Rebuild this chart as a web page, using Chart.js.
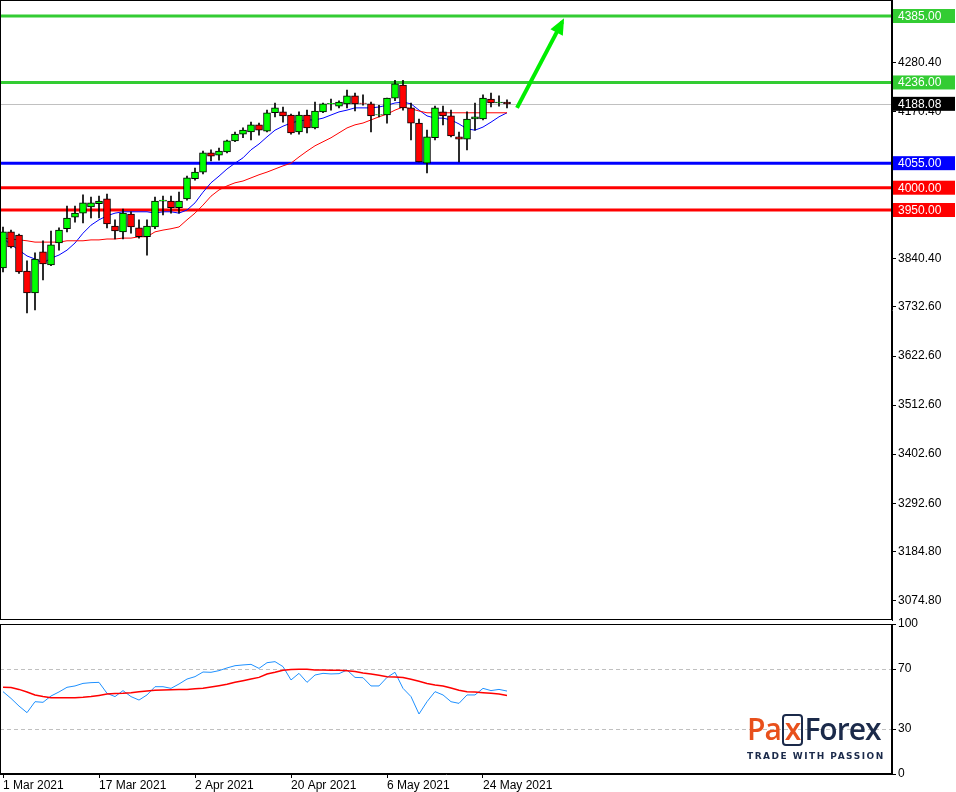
<!DOCTYPE html>
<html>
<head>
<meta charset="utf-8">
<script src="https://cdn.jsdelivr.net/npm/chart.js@4.4.1/dist/chart.umd.min.js"></script>
<style>
  body { margin: 0; background: #fff; width: 956px; height: 792px; overflow: hidden; position: relative; font-family: "Liberation Sans", Arial, sans-serif; }
  #mainWrap { position: absolute; left: 0; top: 0; width: 956px; height: 622px; }
  #oscWrap { position: absolute; left: 0; top: 610px; width: 956px; height: 182px; }
  #logo { position: absolute; left: 747px; top: 712px; white-space: nowrap; }
  #logo .name { font-family: "Open Sans", sans-serif; font-size: 30px; font-weight: 600; letter-spacing: -1px; line-height: 34px; color: #1b2a4a; }
  #logo .o { color: #e8501c; }
  #logo .bx { display: inline-block; color: #e8501c; border: 2px solid #1b2a4a; border-radius: 4px; line-height: 26px; padding: 0 1px 2px 1px; margin: 0 1px; }
  #logo .tag { font-family: "DejaVu Sans", sans-serif; font-size: 9px; font-weight: bold; letter-spacing: 1.5px; color: #1b2a4a; margin-top: 5px; }
</style>
</head>
<body>
<div id="mainWrap"><canvas id="mainChart"></canvas></div>
<div id="oscWrap"><canvas id="oscChart"></canvas></div>
<div id="logo"><div class="name"><span class="o">Pa</span><span class="bx">x</span>Forex</div><div class="tag">TRADE WITH PASSION</div></div>
<script>
// 数据：每日K线 (1 Mar 2021 - 27 May 2021)
const opens  = [3820,3901,3894,3813,3764,3856,3827,3876,3908,3934,3943,3957,3964,3975,3914,3901,3941,3910,3890,3912,3970,3970,3955,3975,4020,4035,4078,4073,4080,4105,4120,4125,4141,4127,4168,4170,4163,4125,4163,4134,4170,4188,4183,4188,4206,4190,4188,4163,4163,4201,4230,4179,4145,4055,4112,4170,4161,4114,4109,4154,4154,4199,4190,4192];
const highs  = [3912,3905,3896,3836,3854,3881,3903,3910,3959,3959,3984,3979,3981,3986,3928,3952,3946,3928,3928,3979,3981,3981,3990,4026,4044,4082,4085,4089,4107,4125,4134,4147,4145,4174,4190,4181,4165,4170,4174,4192,4190,4199,4195,4219,4212,4208,4192,4185,4201,4241,4241,4190,4154,4129,4183,4183,4174,4125,4170,4190,4208,4212,4206,4197];
const lows   = [3811,3865,3808,3719,3726,3793,3825,3860,3901,3923,3921,3932,3932,3910,3885,3885,3898,3887,3849,3908,3939,3943,3943,3972,4017,4031,4060,4062,4078,4103,4112,4107,4118,4125,4159,4147,4120,4120,4123,4132,4168,4174,4179,4179,4172,4185,4125,4159,4145,4195,4174,4107,4058,4033,4107,4141,4114,4058,4085,4129,4152,4181,4183,4179];
const closes = [3901,3867,3811,3764,3840,3829,3872,3905,3932,3943,3966,3966,3970,3919,3903,3943,3912,3890,3914,3970,3972,3955,3970,4022,4035,4078,4071,4082,4105,4120,4129,4141,4129,4168,4179,4161,4123,4163,4134,4172,4188,4189,4192,4206,4188,4189,4161,4164,4201,4233,4179,4145,4058,4114,4179,4161,4116,4109,4154,4159,4201,4190,4192,4188];
// 均线
const maFast = [3887,3872,3860,3847,3840,3831,3842,3849,3860,3876,3898,3916,3928,3937,3943,3946,3946,3946,3946,3943,3946,3946,3943,3950,3966,3990,4011,4026,4042,4055,4067,4085,4098,4114,4129,4138,4145,4150,4152,4152,4156,4163,4170,4174,4179,4179,4179,4181,4185,4190,4192,4188,4174,4161,4156,4156,4152,4143,4132,4129,4136,4147,4159,4168];
const maSlow = [3887,3885,3883,3881,3878,3878,3878,3878,3881,3881,3881,3883,3883,3885,3885,3887,3887,3890,3890,3901,3905,3908,3912,3928,3943,3961,3981,3995,4004,4011,4015,4022,4029,4035,4042,4049,4055,4069,4082,4094,4103,4112,4123,4134,4141,4145,4152,4159,4165,4174,4181,4177,4172,4168,4168,4168,4168,4168,4168,4168,4168,4168,4168,4168];
// 振荡指标
const oscMain = [54.9,50.4,45.3,40.9,48.2,47.8,52,54.7,57.8,58.7,60.4,60.9,61.1,53.8,51.6,55.6,51.6,49.3,52.7,58.2,58.2,57.1,60,63.3,64.9,68,67.8,68.9,70.7,72.2,72.7,73.1,70.4,74.2,74.9,71.6,62.7,67.1,61.1,66,67.1,66.7,66.9,69.3,64.4,64.2,58.7,58.7,64.4,67.8,57.1,51.6,40,48.2,54.9,52.7,48.2,47.1,52.7,52.7,57.1,55.6,56.4,55.3];
const oscSignal = [57.8,57.6,56.4,54.7,52.7,51.6,50.9,50.9,50.9,50.9,51.1,51.6,52.4,53.3,53.6,53.8,54.2,54.9,55.3,55.8,56,56.2,56.4,56.4,56.9,57.1,58,58.9,59.8,61.1,62.2,63.3,64.4,66.7,67.8,69.1,69.6,69.8,69.8,69.3,69.3,69.1,69.1,68.9,68.4,67.3,66.7,65.8,64.9,64.7,64.4,63.1,61.8,60.4,59.3,58.7,57.3,55.8,54.9,54.7,54.2,53.8,53.3,52.4];
// 刻度与标注
const priceTicks = [4280.40,4170.40,3840.40,3732.60,3622.60,3512.60,3402.60,3292.60,3184.80,3074.80];
const levels = [
  { value: 4385, color: '#33cc33', label: '4385.00' },
  { value: 4236, color: '#33cc33', label: '4236.00' },
  { value: 4055, color: '#0000ff', label: '4055.00' },
  { value: 4000, color: '#ff0000', label: '4000.00' },
  { value: 3950, color: '#ff0000', label: '3950.00' }
];
const lastPrice = 4188.08;
const dateTickIdx = [0, 12, 24, 36, 48, 60];
const dateLabels = ['1 Mar 2021', '17 Mar 2021', '2 Apr 2021', '20 Apr 2021', '6 May 2021', '24 May 2021'];
const arrowPts = [{ x: 64.25, y: 4179 }, { x: 69.9, y: 4372 }];
const oscTicks = [100, 70, 30, 0];

const X_MIN = -0.375, X_MAX = 111.125;
const AXIS_W = 64;
const FONT = { family: '"Liberation Sans", Arial, sans-serif', size: 12 };

const idx = opens.map((_, i) => i);
const bodyColors = idx.map(i => closes[i] >= opens[i] ? '#00ff00' : '#ff0000');

// 去掉刻度标签引起的额外边距
function fixY(s) { s.width = AXIS_W; s.paddingTop = 0; s.paddingBottom = 0; }
function fixX(s) { s.height = 18; s.paddingLeft = 0; s.paddingRight = 0; }

// 面板边框和水平线、标签
const panelPlugin = {
  id: 'panel',
  beforeDatasetsDraw(chart) {
    const { ctx, chartArea: a, scales } = chart;
    if (chart.canvas.id !== 'mainChart') return;
    const y = scales.y;
    ctx.save();
    ctx.strokeStyle = '#c0c0c0';
    ctx.lineWidth = 1;
    const py = Math.round(y.getPixelForValue(lastPrice)) + 0.5;
    ctx.beginPath(); ctx.moveTo(a.left, py); ctx.lineTo(a.right, py); ctx.stroke();
    ctx.lineWidth = 3;
    levels.forEach(l => {
      const ly = y.getPixelForValue(l.value);
      ctx.strokeStyle = l.color;
      ctx.beginPath(); ctx.moveTo(a.left, ly); ctx.lineTo(a.right, ly); ctx.stroke();
    });
    ctx.restore();
  },
  afterDraw(chart) {
    const { ctx, chartArea: a, scales } = chart;
    ctx.save();
    ctx.strokeStyle = '#000';
    ctx.lineWidth = 1;
    ctx.strokeRect(a.left + 0.5, a.top + 0.5, a.right - a.left - 1, a.bottom - a.top - 1);
    if (chart.canvas.id === 'mainChart') {
      const y = scales.y;
      ctx.font = '12px "Liberation Sans", Arial, sans-serif';
      ctx.textBaseline = 'middle';
      const boxes = levels.map(l => ({ v: l.value, bg: l.color, t: l.label }));
      boxes.push({ v: lastPrice, bg: '#000', t: lastPrice.toFixed(2) });
      boxes.forEach(b => {
        const by = y.getPixelForValue(b.v);
        ctx.fillStyle = b.bg;
        ctx.fillRect(a.right + 1, by - 7, 62, 14);
        ctx.fillStyle = '#fff';
        ctx.fillText(b.t, a.right + 6, by + 0.5);
      });
      // 箭头头部
      const x = scales.x;
      const x1 = x.getPixelForValue(arrowPts[0].x), y1 = y.getPixelForValue(arrowPts[0].y);
      const x2 = x.getPixelForValue(arrowPts[1].x), y2 = y.getPixelForValue(arrowPts[1].y);
      const ang = Math.atan2(y2 - y1, x2 - x1);
      ctx.fillStyle = '#00ee00';
      ctx.beginPath();
      ctx.moveTo(x2 + 4 * Math.cos(ang), y2 + 4 * Math.sin(ang));
      ctx.lineTo(x2 - 12 * Math.cos(ang) + 7 * Math.sin(ang), y2 - 12 * Math.sin(ang) - 7 * Math.cos(ang));
      ctx.lineTo(x2 - 12 * Math.cos(ang) - 7 * Math.sin(ang), y2 - 12 * Math.sin(ang) + 7 * Math.cos(ang));
      ctx.closePath();
      ctx.fill();
    }
    ctx.restore();
  }
};

new Chart(document.getElementById('mainChart'), {
  type: 'bar',
  data: {
    datasets: [
      { type: 'line', data: idx.map(i => ({ x: i, y: maSlow[i] })), borderColor: '#ff0000', borderWidth: 1, pointRadius: 0, order: 3 },
      { type: 'line', data: idx.map(i => ({ x: i, y: maFast[i] })), borderColor: '#0000ff', borderWidth: 1, pointRadius: 0, order: 3 },
      { data: idx.map(i => ({ x: i, y: [lows[i], highs[i]] })), backgroundColor: '#000', barThickness: 1, grouped: false, order: 2 },
      { data: idx.map(i => ({ x: i, y: [opens[i], closes[i]] })), backgroundColor: bodyColors, borderColor: '#000', borderWidth: 1, borderSkipped: false, barThickness: 7, grouped: false, order: 1 },
      { type: 'line', data: arrowPts, borderColor: '#00ee00', borderWidth: 4, pointRadius: 0, order: 0 }
    ]
  },
  options: {
    responsive: true, maintainAspectRatio: false, animation: false,
    layout: { padding: { top: 0, bottom: 2, left: 0, right: 0 } },
    plugins: { legend: { display: false }, tooltip: { enabled: false } },
    scales: {
      x: { type: 'linear', min: X_MIN, max: X_MAX, offset: false, display: false },
      y: {
        position: 'right', min: 3030.7, max: 4420.9,
        afterBuildTicks: s => { s.ticks = priceTicks.map(v => ({ value: v })); },
        afterFit: fixY,
        grid: { display: true, drawOnChartArea: false, color: '#000', tickLength: 4 },
        border: { color: '#000' },
        ticks: { color: '#000', font: FONT, padding: 2, callback: v => v.toFixed(2) }
      }
    }
  },
  plugins: [panelPlugin]
});

new Chart(document.getElementById('oscChart'), {
  type: 'line',
  data: {
    datasets: [
      { data: idx.map(i => ({ x: i, y: oscSignal[i] })), borderColor: '#ff0000', borderWidth: 1.5, pointRadius: 0 },
      { data: idx.map(i => ({ x: i, y: oscMain[i] })), borderColor: '#1e90ff', borderWidth: 1, pointRadius: 0 }
    ]
  },
  options: {
    responsive: true, maintainAspectRatio: false, animation: false,
    layout: { padding: { top: 14, bottom: 0, left: 0, right: 0 } },
    plugins: { legend: { display: false }, tooltip: { enabled: false } },
    scales: {
      x: {
        type: 'linear', min: X_MIN, max: X_MAX, offset: false,
        afterBuildTicks: s => { s.ticks = dateTickIdx.map(v => ({ value: v })); },
        afterFit: fixX,
        grid: { drawOnChartArea: false, color: '#000', tickLength: 4 },
        border: { color: '#000' },
        ticks: { color: '#000', font: FONT, padding: 0, align: 'start', maxRotation: 0,
          callback: v => dateLabels[dateTickIdx.indexOf(v)] }
      },
      y: {
        position: 'right', min: 0, max: 100,
        afterBuildTicks: s => { s.ticks = oscTicks.map(v => ({ value: v })); },
        afterFit: fixY,
        grid: {
          color: c => (c.tick.value === 70 || c.tick.value === 30) ? '#c0c0c0' : 'rgba(0,0,0,0)',
          tickColor: '#000', tickLength: 4
        },
        border: { color: '#000', dash: [4, 3] },
        ticks: { color: '#000', font: FONT, padding: 2 }
      }
    }
  },
  plugins: [panelPlugin]
});
</script>
</body>
</html>
